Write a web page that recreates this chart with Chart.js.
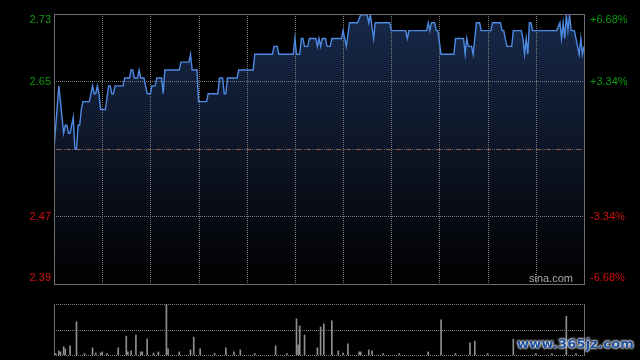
<!DOCTYPE html>
<html lang="zh">
<head>
    <meta charset="UTF-8">
    <title>分时图</title>
    <script src="https://cdn.jsdelivr.net/npm/chart.js@4/dist/chart.umd.min.js"></script>
    <style>
        body {
            margin: 0;
            padding: 0;
            background-color: #000;
            width: 640px;
            height: 360px;
            overflow: hidden;
            position: relative;
        }
        #priceBox { position: absolute; left: 0; top: 0; width: 640px; height: 290px; }
        #volBox { position: absolute; left: 0; top: 290px; width: 640px; height: 70px; }
        canvas { display: block; }
        #mark {
            position: absolute;
            left: 517px;
            top: 336px;
            font: bold 13px "DejaVu Sans", sans-serif;
            color: #1d4f9e;
            text-shadow: 0 0 2px #fff, 0 0 2px #fff, 0 0 3px #fff;
            letter-spacing: 0.2px;
        }
    </style>
</head>
<body>
<div id="priceBox"><canvas id="priceChart" width="640" height="290"></canvas></div>
<div id="volBox"><canvas id="volChart" width="640" height="70"></canvas></div>
<div id="mark">www.365jz.com</div>

<script>
    // session: 9:30-12:00 + 13:00-16:00, minutes from the open
    const sessionMinutes = 330;
    const gridStep = 30;

    const prevClose = 2.56;
    const pctRange = 6.68; // top / bottom of the axis in %
    const tickPcts = [6.68, 3.34, 0, -3.34, -6.68];
    const leftLabels = ['2.73', '2.65', '', '2.47', '2.39'];
    const rightLabels = ['+6.68%', '+3.34%', '', '-3.34%', '-6.68%'];

    // price line (minute, price)
    const priceMinutes = [0,3,4,5,6,7,8,9,10,12,13,14,15,16,17,18,22,24,25,26,27,28,29,32,34,35,36,37,38,43,44,47,48,49,50,52,53,54,56,57,58,60,61,63,64,67,68,69,78,79,84,85,86,89,90,95,96,102,103,105,106,107,108,114,115,124,125,136,137,139,140,149,150,151,153,154,155,156,158,159,163,164,165,166,167,169,170,172,173,179,180,182,184,189,191,195,196,197,199,200,209,210,219,220,221,232,233,234,235,237,238,239,241,249,250,255,256,257,258,260,261,263,265,266,272,273,278,279,280,282,285,286,291,292,293,294,295,296,297,298,313,315,316,317,318,319,320,321,322,324,325,326,327,328,329,330];
    const priceValues = [2.56,2.64,2.62,2.60,2.58,2.59,2.59,2.58,2.58,2.60,2.56,2.56,2.59,2.59,2.61,2.62,2.62,2.64,2.63,2.63,2.64,2.63,2.61,2.61,2.64,2.64,2.63,2.63,2.64,2.64,2.65,2.65,2.66,2.66,2.65,2.65,2.66,2.65,2.65,2.64,2.63,2.63,2.64,2.64,2.65,2.65,2.63,2.66,2.66,2.67,2.67,2.68,2.66,2.66,2.62,2.62,2.63,2.63,2.65,2.65,2.63,2.63,2.65,2.65,2.66,2.66,2.68,2.68,2.69,2.69,2.68,2.68,2.70,2.68,2.68,2.70,2.70,2.69,2.69,2.70,2.70,2.69,2.70,2.69,2.70,2.70,2.69,2.69,2.70,2.70,2.71,2.69,2.72,2.72,2.73,2.73,2.72,2.73,2.70,2.72,2.72,2.71,2.71,2.70,2.71,2.71,2.72,2.71,2.72,2.72,2.71,2.71,2.68,2.68,2.70,2.70,2.68,2.70,2.69,2.69,2.68,2.72,2.72,2.71,2.71,2.72,2.72,2.71,2.71,2.69,2.69,2.71,2.71,2.70,2.68,2.70,2.68,2.72,2.72,2.71,2.71,2.72,2.70,2.72,2.70,2.73,2.71,2.73,2.71,2.71,2.70,2.69,2.68,2.70,2.68,2.69];

    // volume bars (minute, relative volume; axis top = 100)
    const volMax = 100;
    const volMinutes = [1,3,4,6,7,10,14,19,24,26,29,30,33,40,45,46,48,51,54,55,58,62,65,70,71,78,85,87,91,100,107,112,116,125,138,145,151,152,153,156,164,166,168,173,177,180,183,190,191,196,198,205,215,233,241,250,259,262,270,286,300,310,319,325];
    const volValues = [3,8,6,16,12,18,65,3,14,4,4,6,3,14,37,6,8,39,6,6,31,4,6,110,12,6,10,35,12,3,14,6,10,3,18,3,71,20,57,39,14,55,61,67,8,4,22,6,6,10,8,3,3,6,69,3,24,27,3,31,3,3,76,3];

    const gridColor = '#7a7a7a';
    const frameColor = '#6e6e6e';
    const upColor = '#0a9a0a';
    const downColor = '#d01010';

    function hline(ctx, x1, x2, y, dash, color) {
        ctx.save();
        ctx.strokeStyle = color;
        ctx.lineWidth = 1;
        ctx.setLineDash(dash);
        ctx.beginPath();
        ctx.moveTo(x1, Math.round(y) + 0.5);
        ctx.lineTo(x2, Math.round(y) + 0.5);
        ctx.stroke();
        ctx.restore();
    }
    function vline(ctx, x, y1, y2, dash, color) {
        ctx.save();
        ctx.strokeStyle = color;
        ctx.lineWidth = 1;
        ctx.setLineDash(dash);
        ctx.beginPath();
        ctx.moveTo(Math.round(x) + 0.5, y1);
        ctx.lineTo(Math.round(x) + 0.5, y2);
        ctx.stroke();
        ctx.restore();
    }

    const priceGrid = {
        id: 'priceGrid',
        beforeDatasetsDraw(chart) {
            const ctx = chart.ctx;
            const a = chart.chartArea;
            const xs = chart.scales.x, ys = chart.scales.y;
            for (let m = gridStep; m < sessionMinutes; m += gridStep) {
                vline(ctx, xs.getPixelForValue(m), a.top, a.bottom, [1, 1], gridColor);
            }
            tickPcts.forEach(p => {
                const y = ys.getPixelForValue(prevClose * (1 + p / 100));
                if (p === 0) {
                    hline(ctx, a.left, a.right, y, [1, 1], '#5c6470');
                    hline(ctx, a.left + 3, a.right, y, [4, 6], '#a0603c');
                } else if (Math.abs(p) < pctRange) {
                    hline(ctx, a.left, a.right, y, [1, 1], gridColor);
                }
            });
        },
        afterDatasetsDraw(chart) {
            const ctx = chart.ctx;
            const a = chart.chartArea;
            const ys = chart.scales.y;
            ctx.save();
            ctx.strokeStyle = frameColor;
            ctx.lineWidth = 1;
            ctx.strokeRect(a.left + 0.5, a.top + 0.5, a.right - a.left, a.bottom - a.top);
            ctx.font = '11px "Liberation Sans", Arial, sans-serif';
            ctx.textBaseline = 'middle';
            tickPcts.forEach((p, i) => {
                let y = ys.getPixelForValue(prevClose * (1 + p / 100));
                y = Math.min(Math.max(y, a.top + 6), a.bottom - 6);
                const col = p > 0 ? upColor : downColor;
                ctx.fillStyle = col;
                ctx.textAlign = 'right';
                ctx.fillText(leftLabels[i], a.left - 3, y);
                ctx.textAlign = 'left';
                ctx.fillText(rightLabels[i], a.right + 6, y);
            });
            ctx.fillStyle = '#a8a8a8';
            ctx.textAlign = 'right';
            ctx.fillText('sina.com', a.right - 11, a.bottom - 5);
            ctx.restore();
        }
    };

    const volGrid = {
        id: 'volGrid',
        beforeDatasetsDraw(chart) {
            const ctx = chart.ctx;
            const a = chart.chartArea;
            const ys = chart.scales.y;
            [volMax, volMax / 2, 0].forEach(v => {
                hline(ctx, a.left, a.right, ys.getPixelForValue(v), [1, 1], gridColor);
            });
        },
        afterDatasetsDraw(chart) {
            const ctx = chart.ctx;
            const a = chart.chartArea;
            vline(ctx, a.left, a.top, a.bottom + 1, [], frameColor);
            vline(ctx, a.right, a.top, a.bottom + 1, [], frameColor);
        }
    };

    const pricePoints = priceMinutes.map((m, i) => ({ x: m, y: priceValues[i] }));
    const volPoints = volMinutes.map((m, i) => ({ x: m, y: volValues[i] }));

    new Chart(document.getElementById('priceChart'), {
        type: 'line',
        data: {
            datasets: [{
                data: pricePoints,
                borderColor: '#4d8ae4',
                borderWidth: 1.4,
                pointRadius: 0,
                tension: 0,
                fill: 'start',
                backgroundColor: (c) => {
                    const a = c.chart.chartArea;
                    if (!a) return 'rgba(0,0,0,0)';
                    const g = c.chart.ctx.createLinearGradient(0, a.top, 0, a.bottom);
                    g.addColorStop(0, '#17294a');
                    g.addColorStop(0.55, '#0c1322');
                    g.addColorStop(1, '#000000');
                    return g;
                }
            }]
        },
        options: {
            responsive: false,
            animation: false,
            devicePixelRatio: 1,
            layout: { padding: { left: 54, right: 56, top: 14, bottom: 6 } },
            scales: {
                x: { type: 'linear', display: false, min: 0, max: sessionMinutes },
                y: {
                    display: false,
                    min: prevClose * (1 - pctRange / 100),
                    max: prevClose * (1 + pctRange / 100)
                }
            },
            plugins: {
                legend: { display: false },
                tooltip: { enabled: false },
                filler: { drawTime: 'beforeDraw' }
            }
        },
        plugins: [priceGrid]
    });

    new Chart(document.getElementById('volChart'), {
        type: 'bar',
        data: {
            datasets: [{
                data: volPoints,
                backgroundColor: '#8f8f8f',
                barThickness: 1,
                borderWidth: 0
            }]
        },
        options: {
            responsive: false,
            animation: false,
            devicePixelRatio: 1,
            layout: { padding: { left: 54, right: 56, top: 14, bottom: 5 } },
            scales: {
                x: { type: 'linear', display: false, min: 0, max: sessionMinutes, offset: false },
                y: { display: false, min: 0, max: volMax }
            },
            plugins: {
                legend: { display: false },
                tooltip: { enabled: false }
            }
        },
        plugins: [volGrid]
    });
</script>
</body>
</html>
